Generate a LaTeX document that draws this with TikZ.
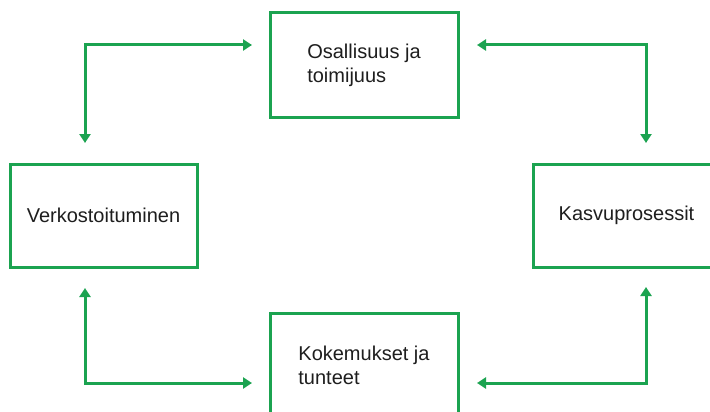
\documentclass[tikz,border=0pt]{standalone}
\usepackage{fontspec}
\setmainfont{Liberation Sans}
\usetikzlibrary{arrows.meta}
\definecolor{grn}{RGB}{27,163,80}
\definecolor{txt}{RGB}{30,30,30}
\tikzset{
  box/.style={draw=grn, line width=3pt, rectangle, outer sep=0pt, fill=white,
    align=left, text=txt, font=\fontsize{20}{24}\selectfont},
  conn/.style={draw=grn, line width=3pt, {Triangle[length=9pt,width=11pt]}-{Triangle[length=9pt,width=11pt]}}
}
\begin{document}
\begin{tikzpicture}[x=1pt,y=-1pt]
\useasboundingbox[fill=white] (0,0) rectangle (710,412);
\node[box, minimum width=188pt, minimum height=104pt] (top) at (364,65) {Osallisuus ja\\toimijuus};
\node[box, minimum width=187pt, minimum height=103pt] (left) at (103.5,215.5) {Verkostoituminen};
\node[box, minimum width=187pt, minimum height=103pt] (right) at (626.5,215.5) {Kasvuprosessit};
\node[box, minimum width=188pt, minimum height=104pt] (bot) at (364,365) {Kokemukset ja\\tunteet};
\draw[conn] ([shift={(-18pt,20pt)}]top.west) -| ([shift={(-18.5pt,21pt)}]left.north);
\draw[conn] ([shift={(19pt,20pt)}]top.east) -| ([shift={(19.5pt,21pt)}]right.north);
\draw[conn] ([shift={(-18pt,-18pt)}]bot.west) -| ([shift={(-18.5pt,-21pt)}]left.south);
\draw[conn] ([shift={(19pt,-18pt)}]bot.east) -| ([shift={(19.5pt,-20pt)}]right.south);
\end{tikzpicture}
\end{document}
